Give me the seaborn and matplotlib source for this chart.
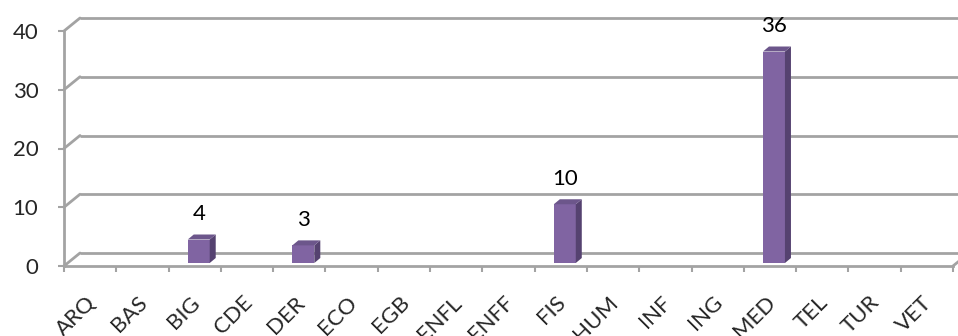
import matplotlib
matplotlib.use('Agg')
import matplotlib.pyplot as plt
import seaborn as sns
import pandas as pd
import numpy as np
from matplotlib.transforms import ScaledTranslation, IdentityTransform
from matplotlib.patches import Polygon
from matplotlib.lines import Line2D

categories = ["ARQ", "BAS", "BIG", "CDE", "DER", "ECO", "EGB", "ENFL", "ENFF",
              "FIS", "HUM", "INF", "ING", "MED", "TEL", "TUR", "VET"]
values = [0, 0, 4, 0, 3, 0, 0, 0, 0, 10, 0, 0, 0, 36, 0, 0, 0]
y_ticks = [0, 10, 20, 30, 40]

W, H, DPI = 958, 336, 100
GRID = '#a3a3a3'
FRONT = '#8064A2'
SIDE = '#554270'
TOP = '#6C568B'
BACK_DX, BACK_DY = 16, 13      # depth of the back wall (pixels)
BAR_DX, BAR_DY = 4, 3          # bar placement inside depth
BAR_DEPTH_X, BAR_DEPTH_Y = 6, 5
FS = 16

sns.set_theme(style='white')
plt.rcParams['font.family'] = ['Lato', 'DejaVu Sans']

fig = plt.figure(figsize=(W / DPI, H / DPI), dpi=DPI)
ax = fig.add_axes([64 / W, (H - 266) / H, (953 - 64) / W, (266 - 31) / H])
ax.patch.set_alpha(0)

df = pd.DataFrame({'cat': categories, 'val': values})
sns.barplot(data=df, x='cat', y='val', color=FRONT, width=0.42, ax=ax,
            saturation=1, zorder=3, linewidth=0)
ax.set_xlim(-0.5, len(categories) - 0.5)
ax.set_ylim(0, 40)
ax.set_xlabel('')
ax.set_ylabel('')

# back wall gridlines
back = ax.transData + ScaledTranslation(BACK_DX / DPI, BACK_DY / DPI, fig.dpi_scale_trans)
for y in y_ticks:
    ax.plot([-0.5, len(categories) - 0.5], [y, y], color=GRID, lw=2,
            transform=back, clip_on=False, zorder=1, solid_capstyle='butt')
fig.canvas.draw()
for y in y_ticks:
    p = ax.transData.transform((-0.5, y))
    ax.add_line(Line2D([p[0], p[0] + BACK_DX], [p[1], p[1] + BACK_DY],
                       transform=IdentityTransform(), color=GRID, lw=2, clip_on=False, zorder=1))
p = ax.transData.transform((len(categories) - 0.5, 0))
ax.add_line(Line2D([p[0], p[0] + BACK_DX], [p[1], p[1] + BACK_DY],
                   transform=IdentityTransform(), color=GRID, lw=2, clip_on=False, zorder=1))

# 3D bars
bar_tr = ax.transData + ScaledTranslation(BAR_DX / DPI, BAR_DY / DPI, fig.dpi_scale_trans)
for patch, v in zip(ax.patches, values):
    patch.set_transform(bar_tr)
    patch.set_clip_on(False)
    if v <= 0:
        patch.set_visible(False)
        continue
    x0, w = patch.get_x(), patch.get_width()
    (px0, py0) = bar_tr.transform((x0, 0))
    (px1, py1) = bar_tr.transform((x0 + w, v))
    side = Polygon([(px1, py0), (px1, py1), (px1 + BAR_DEPTH_X, py1 + BAR_DEPTH_Y),
                    (px1 + BAR_DEPTH_X, py0 + BAR_DEPTH_Y)], closed=True,
                   transform=IdentityTransform(), facecolor=SIDE, edgecolor='none', zorder=3, clip_on=False)
    top = Polygon([(px0, py1), (px1, py1), (px1 + BAR_DEPTH_X, py1 + BAR_DEPTH_Y),
                   (px0 + BAR_DEPTH_X, py1 + BAR_DEPTH_Y)], closed=True,
                  transform=IdentityTransform(), facecolor=TOP, edgecolor='none', zorder=3, clip_on=False)
    ax.add_patch(side)
    ax.add_patch(top)
    ax.annotate(str(v), xy=(x0 + w / 2, v), xytext=(BAR_DX, BAR_DY + 15),
                textcoords='offset pixels', ha='center', va='bottom', fontsize=FS, color='black')

# spines and ticks
for s in ['top', 'right']:
    ax.spines[s].set_visible(False)
for s in ['left', 'bottom']:
    ax.spines[s].set_color(GRID)
    ax.spines[s].set_linewidth(2)
ax.set_yticks(y_ticks)
ax.set_yticklabels([str(t) for t in y_ticks], fontsize=FS)
ax.tick_params(axis='y', length=4.5, width=1.5, color=GRID, pad=14, left=True)
ax.set_xticks(range(len(categories)))
ax.set_xticklabels(categories, fontsize=FS, rotation=45, ha='right', rotation_mode='anchor')
ax.tick_params(axis='x', which='major', length=0, pad=19)
ax.set_xticks(np.arange(-0.5, len(categories)), minor=True)
ax.tick_params(axis='x', which='minor', length=4.5, width=1.5, color=GRID, bottom=True)
for lab in ax.get_xticklabels():
    lab.set_transform(lab.get_transform() + ScaledTranslation(-5 / DPI, 0, fig.dpi_scale_trans))

fig.savefig('out.png', dpi=DPI)
